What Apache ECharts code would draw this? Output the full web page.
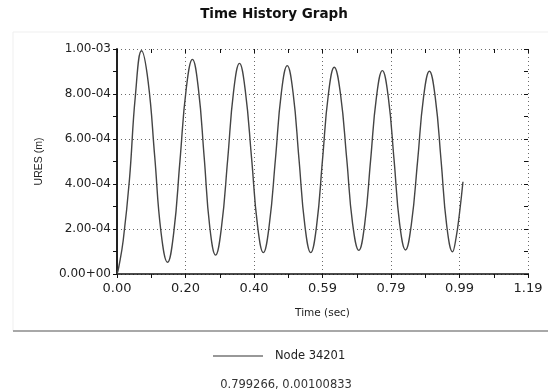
<!DOCTYPE html>
<html>
<head>
<meta charset="utf-8">
<script src="https://cdn.jsdelivr.net/npm/echarts@6/dist/echarts.min.js"></script>
<style>
  html, body { margin: 0; padding: 0; background: #fff; }
  #chart { width: 548px; height: 392px; }
</style>
</head>
<body>
<div id="chart"></div>
<script>
// time (sec)
var time = [0.000, 0.005, 0.018, 0.036, 0.053, 0.071,
  0.090, 0.109, 0.127, 0.146,
  0.164, 0.182, 0.200, 0.218,
  0.235, 0.252, 0.268, 0.285,
  0.302, 0.320, 0.337, 0.354,
  0.371, 0.389, 0.406, 0.423,
  0.440, 0.458, 0.475, 0.492,
  0.509, 0.526, 0.543, 0.560,
  0.577, 0.594, 0.611, 0.628,
  0.646, 0.664, 0.681, 0.699,
  0.716, 0.733, 0.750, 0.767,
  0.784, 0.801, 0.817, 0.834,
  0.851, 0.869, 0.886, 0.903,
  0.920, 0.937, 0.953, 0.970,
  0.980, 0.990, 1.000];
// URES in units of 1e-4 m
var uresE4 = [0.0, 0.3, 1.5, 4.2, 7.9, 9.92,
  8.55, 5.22, 1.89, 0.52,
  1.84, 5.03, 8.22, 9.54,
  8.27, 5.19, 2.11, 0.84,
  2.08, 5.10, 8.12, 9.36,
  8.13, 5.15, 2.18, 0.95,
  2.16, 5.11, 8.05, 9.26,
  8.05, 5.11, 2.16, 0.95,
  2.15, 5.07, 7.99, 9.19,
  8.00, 5.12, 2.24, 1.05,
  2.22, 5.05, 7.87, 9.04,
  7.88, 5.05, 2.23, 1.07,
  2.23, 5.04, 7.85, 9.01,
  7.84, 5.00, 2.16, 0.99,
  1.6, 2.7, 4.1];
var seriesName = 'Node 34201';
var cursorText = '0.799266, 0.00100833';
// axis ranges
var xMax = 1.188, xStep = 0.198;
var yMax = 1e-3, yStep = 2e-4;

var points = [];
for (var i = 0; i < time.length; i++) {
  points.push([time[i], uresE4[i] * 1e-4]);
}

function sciFmt(v) {
  if (Math.abs(v) < 1e-12) return '0.00+00';
  var p = v.toExponential(2).split('e');
  var ex = parseInt(p[1], 10);
  var s = ex < 0 ? '-' : '+';
  var a = Math.abs(ex);
  return p[0] + s + (a < 10 ? '0' + a : a);
}

var font = 'DejaVu Sans, Verdana, sans-serif';
var narrow = 'Liberation Sans Narrow, Liberation Sans, sans-serif';

var chart = echarts.init(document.getElementById('chart'));

// base axis pieces (second copy only draws the inner half of the ticks)
function xAx(inner) {
  return {
    type: 'value', min: 0, max: xMax, interval: xStep,
    name: inner ? '' : 'Time (sec)',
    nameLocation: 'middle', nameGap: 34,
    nameTextStyle: { fontFamily: font, fontSize: 10.5, color: '#222' },
    axisLine: { show: !inner, onZero: false, lineStyle: { color: '#111', width: 1.5 } },
    axisTick: { show: true, inside: inner, length: 4, lineStyle: { color: '#111', width: 1 } },
    minorTick: { show: true, splitNumber: 2, length: 4, lineStyle: { color: '#111', width: 1 } },
    axisLabel: {
      show: !inner, margin: 8, fontFamily: font, fontSize: 13, color: '#222',
      formatter: function (v) { return v.toFixed(2); }
    },
    splitLine: { show: !inner, lineStyle: { color: '#6a6a6a', type: [1, 3], width: 1 } },
    minorSplitLine: { show: false }
  };
}
function yAx(inner) {
  return {
    type: 'value', min: 0, max: yMax, interval: yStep,
    name: inner ? '' : 'URES (m)',
    nameLocation: 'middle', nameGap: 72, nameRotate: 90,
    nameTextStyle: { fontFamily: narrow, fontSize: 10.5, color: '#222' },
    axisLine: { show: !inner, onZero: false, lineStyle: { color: '#222', width: 2 } },
    axisTick: { show: true, inside: inner, length: 4, lineStyle: { color: '#111', width: 1 } },
    minorTick: { show: true, splitNumber: 2, length: 4, lineStyle: { color: '#111', width: 1 } },
    axisLabel: {
      show: !inner, margin: 6, fontFamily: font, fontSize: 12, color: '#222',
      formatter: sciFmt
    },
    splitLine: { show: !inner, lineStyle: { color: '#6a6a6a', type: [1, 3], width: 1 } },
    minorSplitLine: { show: false }
  };
}

var option = {
  backgroundColor: '#fff',
  animation: false,
  title: [
    {
      text: 'Time History Graph', left: 'center', top: 2,
      textStyle: { fontFamily: font, fontSize: 13.5, fontWeight: 'bold', color: '#111' }
    },
    {
      text: cursorText, left: 281, top: 374, textAlign: 'center',
      textStyle: { fontFamily: font, fontSize: 11.5, fontWeight: 'normal', color: '#333' }
    }
  ],
  legend: {
    data: [seriesName], left: 208, top: 345,
    icon: 'path://M0,0 L100,0 L100,2 L0,2 Z',
    itemWidth: 50, itemHeight: 1.2,
    itemStyle: { color: '#333' },
    textStyle: { fontFamily: font, fontSize: 11.5, color: '#222', padding: [0, 0, 0, 7] }
  },
  grid: { left: 117, right: 20, top: 49, bottom: 118 },
  xAxis: [xAx(false), xAx(true)],
  yAxis: [yAx(false), yAx(true)],
  graphic: [
    {
      type: 'rect', silent: true, z: -10,
      shape: { x: 13, y: 32, width: 545, height: 299 },
      style: { fill: '#fff', stroke: '#efefef', lineWidth: 1 }
    },
    {
      type: 'line', silent: true,
      shape: { x1: 13, y1: 331, x2: 548, y2: 331 },
      style: { stroke: '#a8a8a8', lineWidth: 2 }
    }
  ],
  series: [
    {
      name: seriesName, type: 'line', xAxisIndex: 0, yAxisIndex: 0,
      data: points, symbol: 'none', smooth: 0.45,
      lineStyle: { color: '#444', width: 1.4 },
      itemStyle: { color: '#444' }
    }
  ]
};
chart.setOption(option);
</script>
</body>
</html>
